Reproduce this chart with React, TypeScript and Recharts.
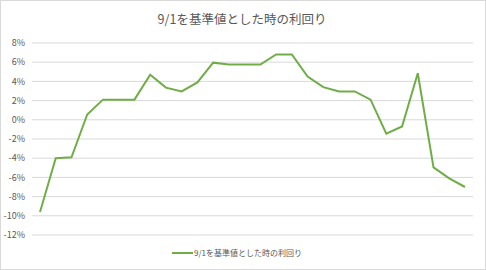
import { CartesianGrid, Line, LineChart, XAxis, YAxis } from "recharts";

const TITLE = "9/1を基準値とした時の利回り";
const SERIES_NAME = "9/1を基準値とした時の利回り";

// one point per trading day after 9/1 (no x labels are shown in the original)
const days = Array.from({ length: 28 }, (_, i) => `d${i + 1}`);
const yields = [
  -9.6, -4.0, -3.9, 0.55, 2.1, 2.1, 2.1, 4.7, 3.35, 2.95, 3.9, 5.95, 5.75, 5.75,
  5.75, 6.8, 6.8, 4.5, 3.4, 2.95, 2.95, 2.1, -1.45, -0.7, 4.85, -4.95, -6.1, -7.0,
];
const yTicks = [-12, -10, -8, -6, -4, -2, 0, 2, 4, 6, 8];

const rows = days.map((d, i) => ({ day: d, value: yields[i] }));

const GREEN = "#70ad47";
const TEXT = "#595959";
const FONT = "'Noto Sans CJK JP', 'Noto Sans', sans-serif";

export default function App() {
  return (
    <div
      style={{
        position: "absolute",
        left: 0,
        top: 0,
        width: 486,
        height: 270,
        boxSizing: "border-box",
        border: "1px solid #d9d9d9",
        background: "#fff",
      }}
    >
      <div
        style={{
          position: "absolute",
          top: 8,
          left: 0,
          width: 482,
          textAlign: "center",
          fontFamily: FONT,
          fontSize: 12.5,
          color: TEXT,
        }}
      >
        {TITLE}
      </div>
      <div style={{ position: "absolute", left: -1, top: -1 }}>
        <LineChart
          width={486}
          height={270}
          data={rows}
          margin={{ top: 43, right: 13, bottom: 35, left: 0 }}
        >
          <CartesianGrid vertical={false} stroke="#d9d9d9" />
          <XAxis dataKey="day" hide padding={{ left: 8, right: 8 }} />
          <YAxis
            width={32}
            domain={[-12, 8]}
            ticks={yTicks}
            interval={0}
            axisLine={false}
            tickLine={false}
            tickMargin={1}
            tickFormatter={(v: number) => `${v}%`}
            tick={{ fontSize: 9, fill: TEXT, fontFamily: FONT }}
          />
          <Line
            type="linear"
            dataKey="value"
            name={SERIES_NAME}
            stroke={GREEN}
            strokeWidth={2}
            dot={false}
            isAnimationActive={false}
          />
        </LineChart>
      </div>
      <div
        style={{
          position: "absolute",
          top: 246,
          left: 0,
          width: 472,
          display: "flex",
          alignItems: "center",
          justifyContent: "center",
          fontFamily: FONT,
          fontSize: 8,
          color: TEXT,
        }}
      >
        <span
          style={{ display: "inline-block", width: 21, height: 2, background: GREEN, marginRight: 1 }}
        />
        <span>{SERIES_NAME}</span>
      </div>
    </div>
  );
}
